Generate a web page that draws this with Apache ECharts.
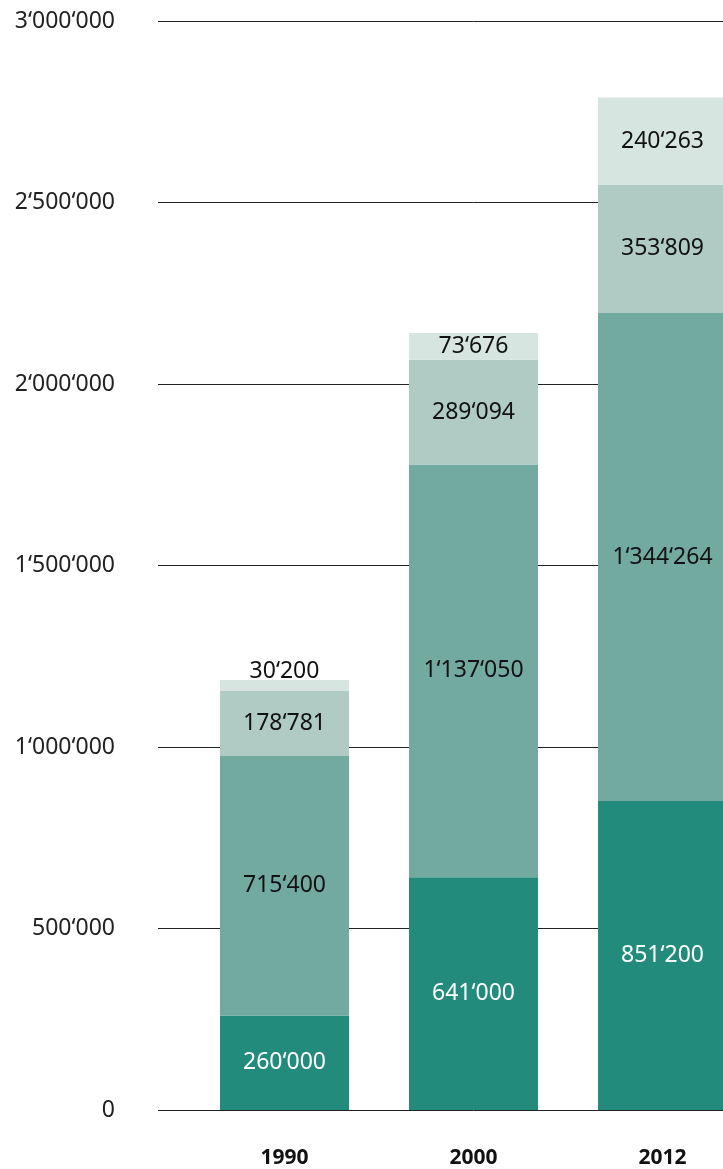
<!DOCTYPE html>
<html>
<head>
<meta charset="utf-8">
<script src="https://cdn.jsdelivr.net/npm/echarts@6/dist/echarts.min.js"></script>
<style>
  html, body { margin: 0; padding: 0; background: #fff; overflow: hidden; }
  #wrap { width: 723px; height: 1169px; overflow: hidden; }
  /* die letzte säule ist im original rechts angeschnitten */
  #chart { width: 757px; height: 1169px; }
</style>
</head>
<body>
<div id="wrap"><div id="chart"></div></div>
<script>
// jahre
const years = ['1990', '2000', '2012'];
// gestapelte werte, von unten nach oben
const level1 = [260000, 641000, 851200];
const level2 = [715400, 1137050, 1344264];
const level3 = [178781, 289094, 353809];
const level4 = [30200, 73676, 240263];
// y-achse
const yTicks = [0, 500000, 1000000, 1500000, 2000000, 2500000, 3000000];

const colors = ['#228b7c', '#72aaa0', '#b0cbc4', '#d6e5e0'];
const font = '"Noto Sans", "Open Sans", sans-serif';

// 1234567 -> 1‘234‘567
function fmt(v) {
  return String(v).replace(/\B(?=(\d{3})+(?!\d))/g, '\u2018');
}

function makeSeries(values, idx, labelColor) {
  return {
    name: 'level' + (idx + 1),
    type: 'bar',
    stack: 'total',
    barWidth: 129,
    itemStyle: { color: colors[idx] },
    label: {
      show: true,
      position: 'inside',
      color: labelColor,
      fontFamily: font,
      fontSize: 23,
      formatter: (p) => fmt(p.value)
    },
    data: values.map((v) => v)
  };
}

const series = [
  makeSeries(level1, 0, '#ffffff'),
  makeSeries(level2, 1, '#111111'),
  makeSeries(level3, 2, '#111111'),
  makeSeries(level4, 3, '#111111')
];
// kleines segment 1990: label oberhalb
series[3].data[0] = { value: level4[0], label: { position: 'top', distance: -3 } };

const chart = echarts.init(document.getElementById('chart'));
chart.setOption({
  animation: false,
  grid: { left: 190, right: 0, top: 21, bottom: 59 },
  xAxis: {
    type: 'category',
    data: years,
    axisLine: { show: false },
    axisTick: { show: false },
    axisLabel: {
      margin: 38,
      color: '#111',
      fontFamily: font,
      fontWeight: 'bold',
      fontSize: 21
    }
  },
  yAxis: {
    type: 'value',
    min: yTicks[0],
    max: yTicks[yTicks.length - 1],
    interval: 500000,
    axisLine: { show: false },
    axisTick: { show: true, length: 32, lineStyle: { color: '#222', width: 1 } },
    splitLine: { show: true, lineStyle: { color: '#222', width: 1 } },
    axisLabel: {
      margin: 75,
      color: '#222',
      fontFamily: font,
      fontSize: 23,
      formatter: (v) => fmt(v)
    }
  },
  series: series
});
</script>
</body>
</html>
